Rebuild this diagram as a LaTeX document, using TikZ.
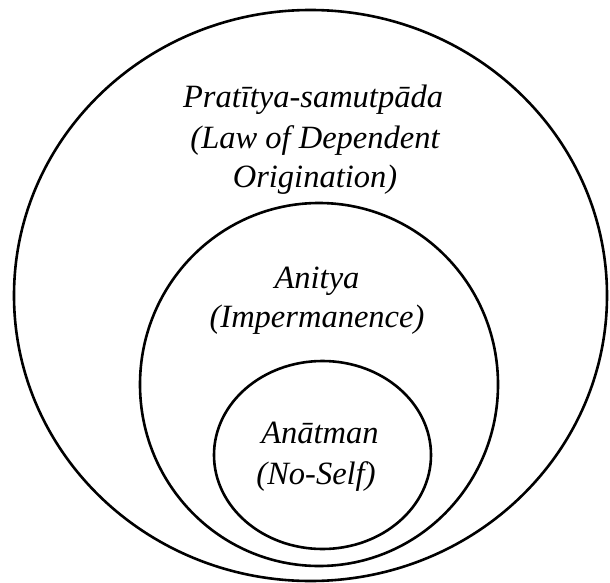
\documentclass[tikz,border=0pt]{standalone}
\usepackage{fontspec}
\setmainfont{Liberation Serif}
\begin{document}
\begin{tikzpicture}[x=1pt,y=-1pt,
  ring/.style={draw=black,line width=2.6pt},
  lbl/.style={anchor=base,inner sep=0pt,font=\fontsize{32.5}{39.5}\selectfont\itshape}]
\useasboundingbox (0,0) rectangle (610,583);
\draw[ring] (310.5,295.5) ellipse [x radius=296.5pt, y radius=285.5pt];
\draw[ring] (319,384.5) ellipse [x radius=179pt, y radius=181.5pt];
\draw[ring] (322.5,455) ellipse [x radius=108.5pt, y radius=94pt];
\node[lbl] (p1) at (313,108) {Pratītya-samutpāda};
\node[lbl] (p2) at (315,148) {(Law of Dependent};
\node[lbl] (p3) at (315,187) {Origination)};
\node[lbl] (a1) at (317,288) {Anitya};
\node[lbl] (a2) at (317,327) {(Impermanence)};
\node[lbl] (n1) at (320,443) {Anātman};
\node[lbl] (n2) at (316,484) {(No-Self)};
\end{tikzpicture}
\end{document}
